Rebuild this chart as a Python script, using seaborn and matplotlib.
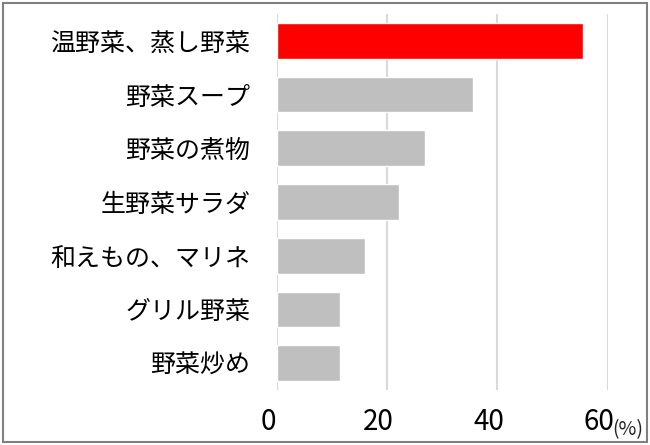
import matplotlib

matplotlib.use("Agg")
import matplotlib.pyplot as plt
import matplotlib.transforms as mtransforms
import pandas as pd
import seaborn as sns
from matplotlib.patches import Rectangle

categories = [
    "温野菜、蒸し野菜",
    "野菜スープ",
    "野菜の煮物",
    "生野菜サラダ",
    "和えもの、マリネ",
    "グリル野菜",
    "野菜炒め",
]
values = [55.6, 35.5, 26.9, 22.2, 16.0, 11.4, 11.4]
bar_colors = ["#ff0000"] + ["#bfbfbf"] * 6
x_ticks = [0, 20, 40, 60]

sns.set_theme(style="white")
plt.rcParams["font.family"] = ["Noto Sans CJK JP", "DejaVu Sans"]

frame = pd.DataFrame({"item": categories, "share": values})

fig = plt.figure(figsize=(6.5, 4.45), dpi=100)
ax = fig.add_axes([0.426, 0.1236, 0.509, 0.845])

for x in x_ticks:
    ax.axvline(x, color="#d9d9d9", linewidth=1.5, zorder=0)

sns.barplot(
    data=frame,
    x="share",
    y="item",
    hue="item",
    palette=bar_colors,
    legend=False,
    orient="h",
    width=0.665,
    saturation=1,
    ax=ax,
    zorder=2,
)

ax.set_xlim(0, 60)
ax.set_ylim(6.5, -0.5)
ax.set_xticks(x_ticks)
ax.set_xticklabels([str(t) for t in x_ticks], fontsize=20, color="#000000")
ax.tick_params(axis="x", length=0, pad=12)
ax.tick_params(axis="y", length=0, pad=19, labelsize=18, labelcolor="#000000")
shift = mtransforms.ScaledTranslation(-9 / 100, 0, fig.dpi_scale_trans)
for label in ax.get_xticklabels():
    label.set_transform(label.get_transform() + shift)
ax.set_xlabel("")
ax.set_ylabel("")
for spine in ax.spines.values():
    spine.set_visible(False)

fig.text(612 / 650, 1 - 430 / 445, "(%)", fontsize=14, ha="left", va="center")

fig.patches.append(
    Rectangle(
        (0.004, 0.006), 0.992, 0.988,
        transform=fig.transFigure, fill=False,
        edgecolor="#808080", linewidth=1.5,
    )
)

fig.savefig("out.png", dpi=100)
